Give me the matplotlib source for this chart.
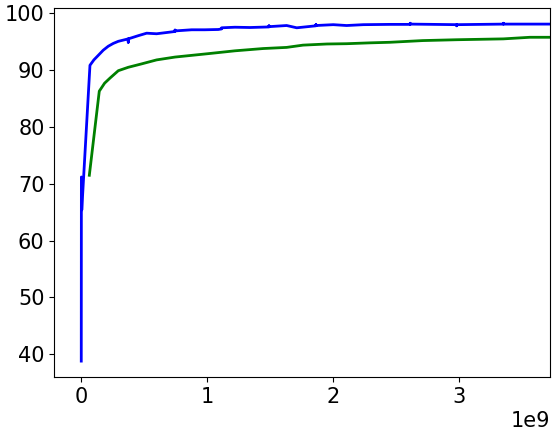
import matplotlib
matplotlib.use("Agg")
import matplotlib.pyplot as plt
import numpy as np

blue_x = [0, 0.001, 0.004, 0.069, 0.1, 0.135, 0.174, 0.214, 0.254, 0.294, 0.373, 0.373, 0.373,
          0.452, 0.519, 0.598, 0.744, 0.744, 0.744, 0.876, 0.98, 1.087, 1.114, 1.114, 1.22,
          1.339, 1.49, 1.49, 1.49, 1.63, 1.71, 1.863, 1.863, 1.863, 2.0, 2.106, 2.238,
          2.45, 2.61, 2.61, 2.61, 2.98, 2.98, 2.98, 3.35, 3.35, 3.35, 3.72]
blue_y = [38.8, 71.2, 65.4, 90.85, 91.8, 92.6, 93.5, 94.2, 94.7, 95.07, 95.5, 94.9, 95.5,
          96.06, 96.5, 96.4, 96.8, 97.05, 96.9, 97.1, 97.1, 97.15, 97.25, 97.45, 97.55,
          97.5, 97.6, 97.8, 97.65, 97.85, 97.45, 97.8, 98.0, 97.85, 98.0, 97.85, 98.0,
          98.05, 98.05, 98.25, 98.1, 98.0, 97.8, 98.0, 98.1, 98.25, 98.1, 98.1]

green_x = [0.064, 0.143, 0.185, 0.228, 0.294, 0.373, 0.479, 0.598, 0.744, 0.876, 1.008, 1.22,
           1.444, 1.63, 1.76, 1.95, 2.106, 2.29, 2.45, 2.71, 2.98, 3.35, 3.56, 3.72]
green_y = [71.5, 86.3, 87.7, 88.6, 89.9, 90.5, 91.1, 91.8, 92.3, 92.6, 92.9, 93.4,
           93.8, 94.0, 94.4, 94.6, 94.65, 94.8, 94.9, 95.2, 95.35, 95.5, 95.78, 95.78]

scale = 1e9

fig = plt.figure(figsize=(5.58, 4.36), dpi=100)
ax = fig.add_axes([54.3 / 558, (436 - 377.3) / 436, (550 - 54.3) / 558, (377.3 - 8.3) / 436])
ax.plot(np.array(blue_x) * scale, blue_y, color="blue", lw=2)
ax.plot(np.array(green_x) * scale, green_y, color="green", lw=2)
ax.set_xlim(-0.214 * scale, 3.72 * scale)
ax.set_ylim(35.95, 100.88)
ax.set_yticks([40, 50, 60, 70, 80, 90, 100])
ax.tick_params(labelsize=15)
ax.xaxis.get_offset_text().set_fontsize(15)
fig.savefig("out.png", dpi=100)
